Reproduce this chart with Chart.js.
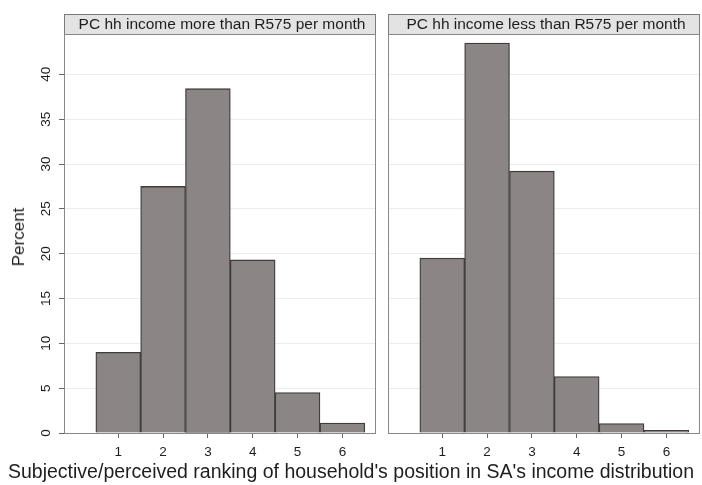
<!DOCTYPE html>
<html>
<head>
<meta charset="utf-8">
<script src="https://cdn.jsdelivr.net/npm/chart.js@4.4.1/dist/chart.umd.min.js"></script>
<style>
  body { margin: 0; background: #fff; }
  #wrap { position: relative; width: 702px; height: 485px; font-family: "Liberation Sans", Arial, sans-serif; }
  canvas { position: absolute; top: 0; }
  #left { left: 0; }
  #right { left: 378px; }
  #ylab { position: absolute; left: 19px; top: 237px; transform: translate(-50%, -50%) rotate(-90deg); font-size: 17px; color: #1e1e1e; white-space: nowrap; }
  #xlab { position: absolute; left: 351px; top: 471px; transform: translate(-50%, -50%); font-size: 19.5px; color: #1e1e1e; white-space: nowrap; }
</style>
</head>
<body>
<div id="wrap">
  <canvas id="left" width="378" height="485"></canvas>
  <canvas id="right" width="324" height="485"></canvas>
  <div id="ylab">Percent</div>
  <div id="xlab">Subjective/perceived ranking of household's position in SA's income distribution</div>
</div>
<script>
const categories = [1, 2, 3, 4, 5, 6]
const moreThanR575 = [9.0, 27.5, 38.4, 19.3, 4.5, 1.1]
const lessThanR575 = [19.5, 43.5, 29.2, 6.3, 1.05, 0.3]
const xTicks = [1, 2, 3, 4, 5, 6]
const yTicks = [0, 5, 10, 15, 20, 25, 30, 35, 40]
const headings = ['PC hh income more than R575 per month', 'PC hh income less than R575 per month']

// header strip, plot frame and rotated y tick labels (Stata style)
const panelPlugin = {
  id: 'panel',
  afterDraw(chart, args, opts) {
    const { ctx, chartArea: a } = chart
    ctx.save()
    ctx.fillStyle = '#e3e3e3'
    ctx.strokeStyle = '#7a7a7a'
    ctx.lineWidth = 1
    ctx.fillRect(a.left, 14, a.right - a.left, a.top - 14)
    ctx.strokeRect(a.left + 0.5, 14.5, a.right - a.left - 1, a.top - 14)
    ctx.strokeStyle = '#888'
    ctx.strokeRect(a.left + 0.5, a.top + 0.5, a.right - a.left - 1, a.bottom - a.top)
    ctx.fillStyle = '#1e1e1e'
    ctx.font = '15.5px "Liberation Sans", Arial, sans-serif'
    ctx.textAlign = 'center'
    ctx.textBaseline = 'middle'
    ctx.fillText(opts.text, (a.left + a.right) / 2 + 2, 24.5)
    if (opts.yLabels) {
      const y = chart.scales.y
      ctx.font = '13.5px "Liberation Sans", Arial, sans-serif'
      ctx.fillStyle = '#1e1e1e'
      yTicks.forEach(v => {
        ctx.save()
        ctx.translate(46, y.getPixelForValue(v))
        ctx.rotate(-Math.PI / 2)
        ctx.fillText(String(v), 0, 0)
        ctx.restore()
      })
    }
    ctx.restore()
  }
}

function makePanel(canvas, values, heading, showY) {
  return new Chart(canvas, {
    type: 'bar',
    data: {
      datasets: [{
        data: categories.map((c, i) => ({ x: c, y: values[i] })),
        backgroundColor: '#8b8685',
        borderColor: '#3f3c3c',
        borderWidth: 1.3,
        barPercentage: 1,
        categoryPercentage: 1
      }]
    },
    options: {
      responsive: false,
      animation: false,
      layout: { padding: { top: 34, right: 2, left: showY ? 0 : 10, bottom: 0 } },
      plugins: {
        legend: { display: false },
        tooltip: { enabled: false },
        panel: { text: heading, yLabels: showY }
      },
      scales: {
        x: {
          type: 'linear',
          min: -0.21,
          max: 6.75,
          offset: false,
          afterBuildTicks: s => { s.ticks = xTicks.map(v => ({ value: v })) },
          afterFit: s => { s.height = 52 },
          grid: { offset: false, drawOnChartArea: false, tickLength: 5, tickColor: '#666' },
          border: { display: false },
          ticks: { color: '#1e1e1e', font: { size: 13.5, family: '"Liberation Sans", Arial, sans-serif' }, padding: 6 }
        },
        y: {
          min: 0,
          max: 44.5,
          afterBuildTicks: s => { s.ticks = yTicks.map(v => ({ value: v })) },
          afterFit: s => { s.width = showY ? 64 : 0 },
          grid: { color: '#ececec', tickLength: 5, drawTicks: showY, tickColor: '#666' },
          border: { display: false },
          ticks: { display: false }
        }
      }
    },
    plugins: [panelPlugin]
  })
}

makePanel(document.getElementById('left'), moreThanR575, headings[0], true)
makePanel(document.getElementById('right'), lessThanR575, headings[1], false)
</script>
</body>
</html>
